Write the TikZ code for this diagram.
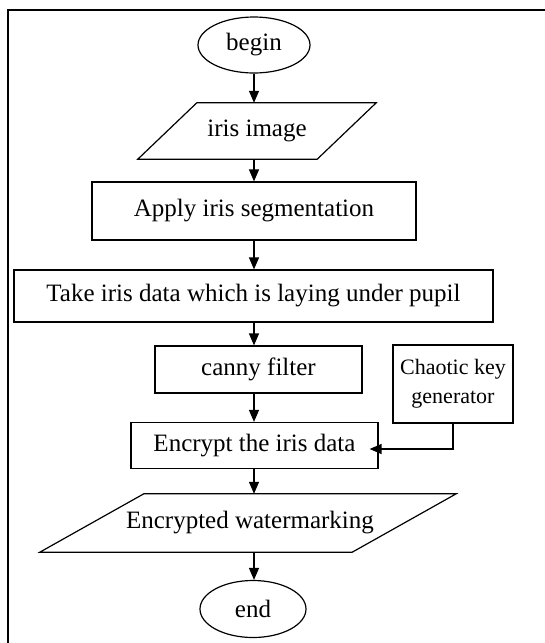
\documentclass[tikz,border=0pt]{standalone}
\usepackage{fontspec}
\setmainfont{Liberation Serif}
\usetikzlibrary{arrows.meta,shapes.geometric,calc}
\begin{document}
\begin{tikzpicture}[x=1pt,y=-1pt,
  every node/.style={font=\fontsize{25}{30}\selectfont, inner sep=0pt},
  box/.style={draw, line width=1.2pt, rectangle},
  term/.style={draw, line width=1.2pt, ellipse},
  io/.style={draw=none, rectangle},
  slant/.style={line width=1.2pt, line join=miter},
  flow/.style={-{Triangle[length=12pt,width=10pt]}, line width=1.3pt}]
\useasboundingbox (0,0) rectangle (545,643);
\draw[line width=2.5pt] (8,643) -- (8,10) -- (545,10);
\coordinate (axis) at (254,0);

\node[term, minimum width=112, minimum height=56] (begin) at (254,45) {begin};

\node[io, minimum width=179, minimum height=56] (iris) at (257,131) {iris image};
\draw[slant] ([xshift=29.5pt]iris.north west) -- ([xshift=29.5pt]iris.north east) -- ([xshift=-29.5pt]iris.south east) -- ([xshift=-29.5pt]iris.south west) -- cycle;

\node[box, minimum width=324, minimum height=58] (apply) at (254,211) {Apply iris segmentation};
\node[box, minimum width=479, minimum height=52] (take) at (253.5,296) {Take iris data which is laying under pupil};
\node[box, minimum width=207, minimum height=47] (canny) at (258.5,369.5) {canny filter};
\node[box, minimum width=247, minimum height=46] (enc) at (254.5,445.5) {Encrypt the iris data};
\node[box, minimum width=120, minimum height=78, align=center, font=\fontsize{22}{29}\selectfont] (chaos) at (453,384) {Chaotic key\\generator};

\node[io, minimum width=312, minimum height=58] (wm) at (248,523) {\hspace*{4pt}Encrypted watermarking};
\draw[slant] ([xshift=52pt]wm.north west) -- ([xshift=52pt]wm.north east) -- ([xshift=-52pt]wm.south east) -- ([xshift=-52pt]wm.south west) -- cycle;

\node[term, minimum width=106, minimum height=57] (end) at (253,609) {end};

\draw[flow] (begin.south -| axis) -- (iris.north -| axis);
\draw[flow] (iris.south -| axis) -- (apply.north -| axis);
\draw[flow] (apply.south -| axis) -- (take.north -| axis);
\draw[flow] (take.south -| axis) -- (canny.north -| axis);
\draw[flow] (canny.south -| axis) -- (enc.north -| axis);
\draw[flow] (enc.south -| axis) -- (wm.north -| axis);
\draw[flow] (wm.south -| axis) -- (end.north -| axis);
\draw[flow] (chaos.south) |- ([xshift=-9pt,yshift=-3.5pt]enc.east);
\end{tikzpicture}
\end{document}
